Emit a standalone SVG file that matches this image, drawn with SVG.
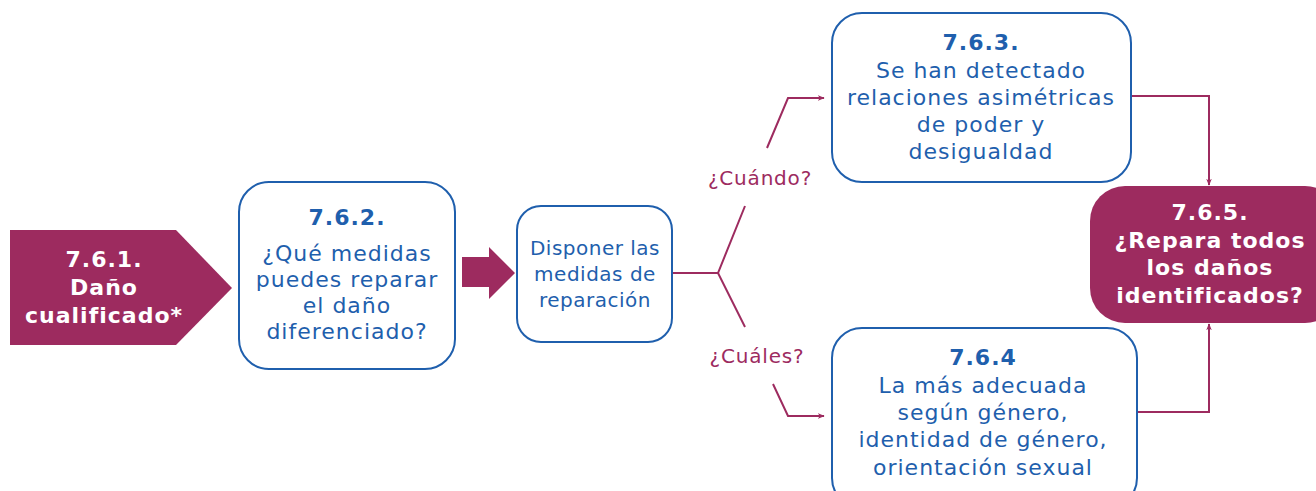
<svg xmlns="http://www.w3.org/2000/svg" width="1316" height="491" viewBox="0 0 1316 491">
<defs>
<style>
.box{fill:#fff;stroke:#1f5fad;stroke-width:2}
.mag{fill:#9d2b5f}
.t{font-family:"DejaVu Sans","Liberation Sans",sans-serif;text-anchor:middle;letter-spacing:1px}
.blue{fill:#1f5fad}
.white{fill:#fff}
.b{font-weight:bold}
.lbl{fill:#9d2b5f;font-family:"DejaVu Sans","Liberation Sans",sans-serif;font-size:20px;letter-spacing:0.8px;text-anchor:middle}
.con{fill:none;stroke:#9d2b5f;stroke-width:2}
</style>
<marker id="ah" viewBox="0 0 10 10" refX="9" refY="5" markerWidth="7" markerHeight="7" orient="auto" markerUnits="userSpaceOnUse">
<path d="M0,1 L10,5 L0,9 L3,5 Z" fill="#9d2b5f"/>
</marker>
</defs>
<g id="connectors">
<path d="M462,257 H489 V247 L515,273 L489,299 V287 H462 Z" class="mag"/>
<polyline class="con" points="672,273 718,273 745,206"/>
<polyline class="con" points="718,273 745,327"/>
<polyline class="con" points="767,148 788,98 824,98" marker-end="url(#ah)"/>
<polyline class="con" points="773,384 788,416 824,416" marker-end="url(#ah)"/>
<polyline class="con" points="1132,96 1209,96 1209,185" marker-end="url(#ah)"/>
<polyline class="con" points="1137,412 1209,412 1209,324" marker-end="url(#ah)"/>
<text class="lbl" x="760" y="185">¿Cuándo?</text>
<text class="lbl" x="757" y="363">¿Cuáles?</text>
</g>
<g id="n761">
<path d="M10,230 H176 L232,288 L176,345 H10 Z" class="mag"/>
<text class="t white b" font-size="22"><tspan x="104" y="267">7.6.1.</tspan><tspan x="104" y="295">Daño</tspan><tspan x="104" y="323">cualificado*</tspan></text>
</g>
<g id="n762">
<rect x="239" y="182" width="216" height="187" rx="30" class="box"/>
<text class="t blue" font-size="22"><tspan x="347" y="225" class="b">7.6.2.</tspan><tspan x="347" y="261">¿Qué medidas</tspan><tspan x="347" y="287">puedes reparar</tspan><tspan x="347" y="313">el daño</tspan><tspan x="347" y="339">diferenciado?</tspan></text>
</g>
<g id="n_disponer">
<rect x="517" y="206" width="155" height="136" rx="24" class="box"/>
<text class="t blue" font-size="20" style="letter-spacing:0.5px"><tspan x="595" y="255">Disponer las</tspan><tspan x="595" y="281">medidas de</tspan><tspan x="595" y="307">reparación</tspan></text>
</g>
<g id="n763">
<rect x="832" y="13" width="299" height="169" rx="30" class="box"/>
<text class="t blue" font-size="22"><tspan x="981" y="50" class="b">7.6.3.</tspan><tspan x="981" y="78">Se han detectado</tspan><tspan x="981" y="105">relaciones asimétricas</tspan><tspan x="981" y="132">de poder y</tspan><tspan x="981" y="159">desigualdad</tspan></text>
</g>
<g id="n764">
<rect x="832" y="328" width="305" height="180" rx="30" class="box"/>
<text class="t blue" font-size="22"><tspan x="983" y="365" class="b">7.6.4</tspan><tspan x="983" y="393">La más adecuada</tspan><tspan x="983" y="420">según género,</tspan><tspan x="983" y="447">identidad de género,</tspan><tspan x="983" y="475">orientación sexual</tspan></text>
</g>
<g id="n765">
<rect x="1090" y="186" width="250" height="137" rx="35" class="mag"/>
<text class="t white b" font-size="22"><tspan x="1210" y="220">7.6.5.</tspan><tspan x="1210" y="248">¿Repara todos</tspan><tspan x="1210" y="275">los daños</tspan><tspan x="1210" y="303">identificados?</tspan></text>
</g>
</svg>
